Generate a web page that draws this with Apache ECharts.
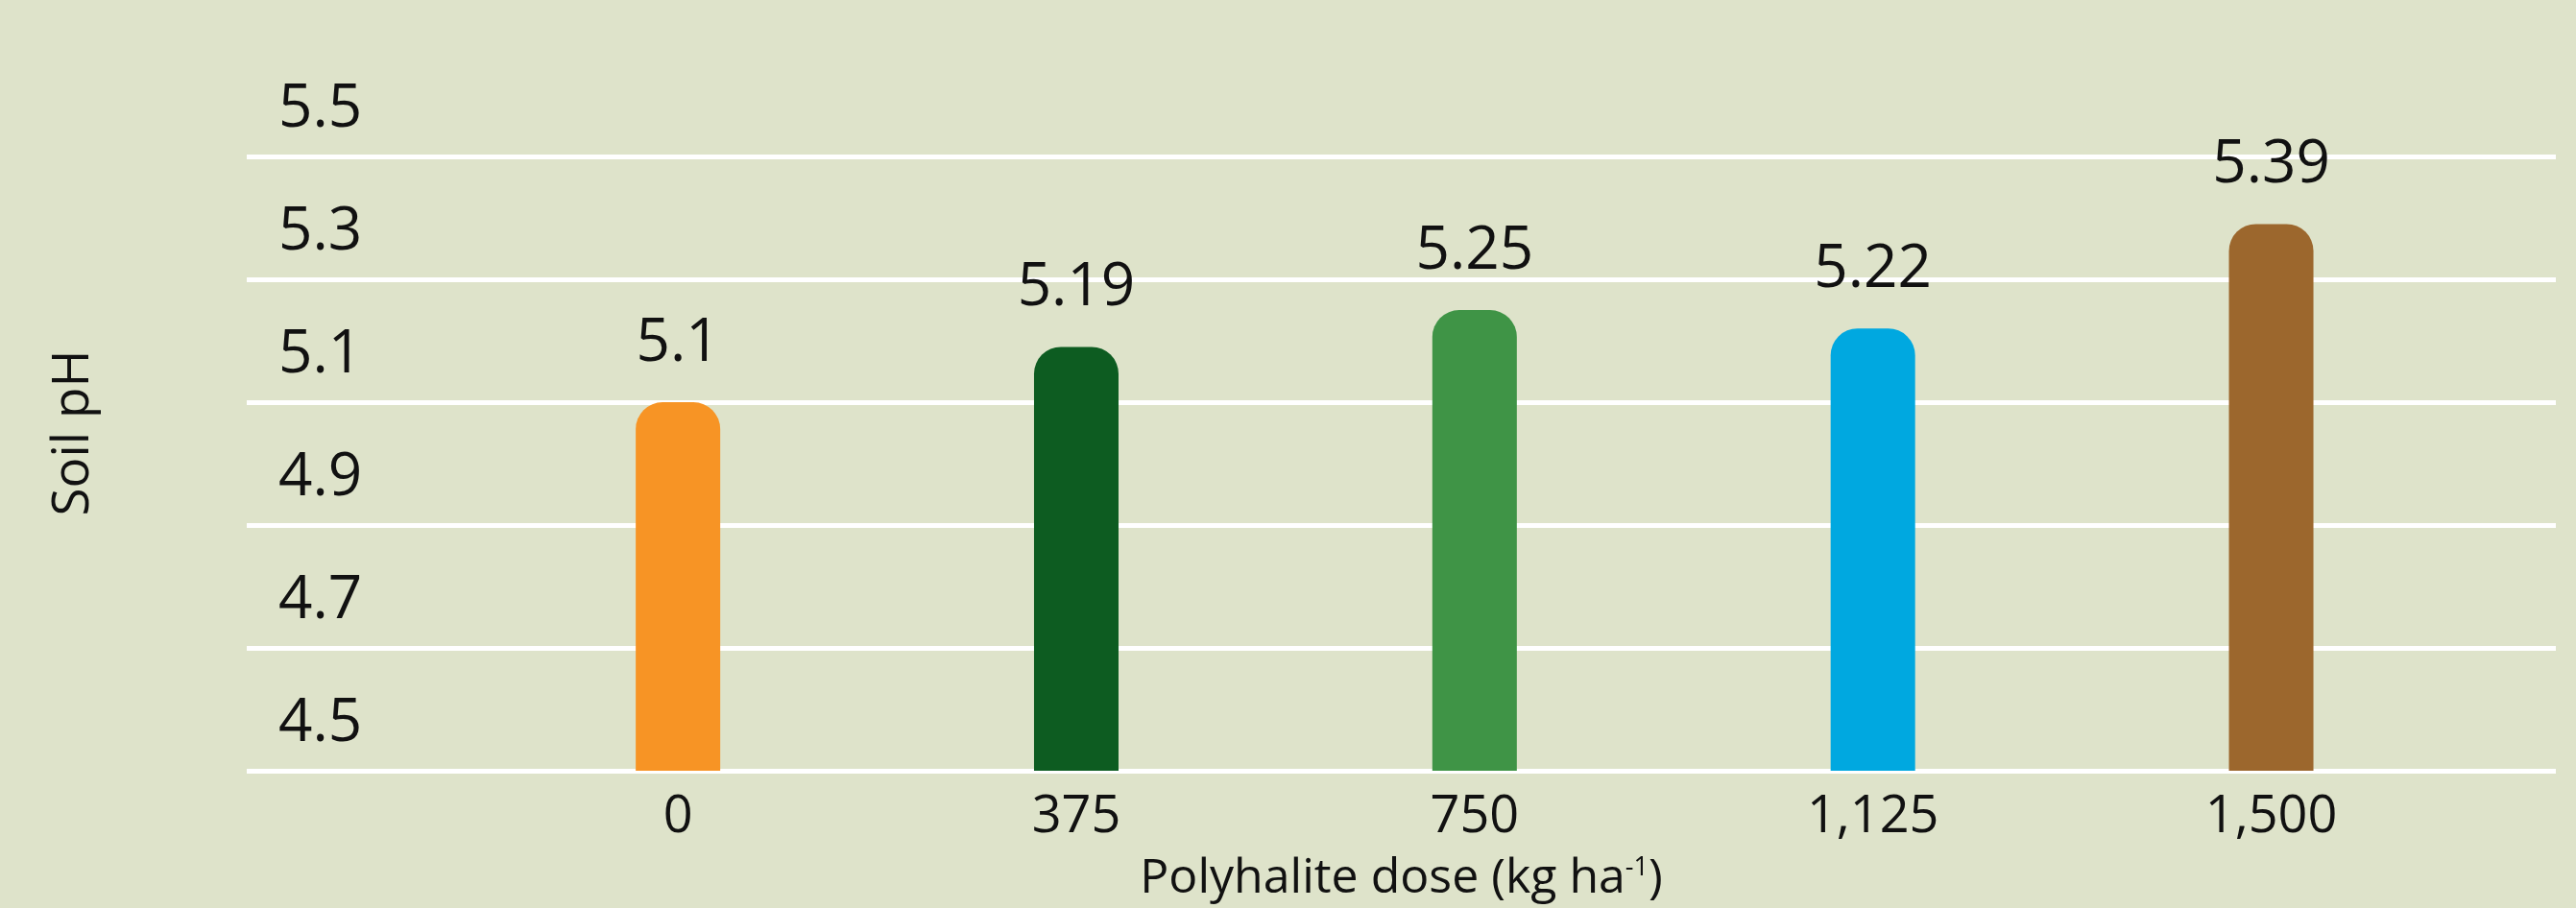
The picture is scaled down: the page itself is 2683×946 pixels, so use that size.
<!DOCTYPE html>
<html>
<head>
<meta charset="utf-8">
<title>Soil pH by polyhalite dose</title>
<script src="https://cdn.jsdelivr.net/npm/echarts@6/dist/echarts.min.js"></script>
<style>
  html, body { margin: 0; padding: 0; background: #dee3ca; }
  #chart { width: 2683px; height: 946px; }
</style>
</head>
<body>
<div id="chart"></div>
<script>
const doses = [0, 375, 750, 1125, 1500]
const doseLabels = ['0', '375', '750', '1,125', '1,500']
const phValues = [5.1, 5.19, 5.25, 5.22, 5.39]
const barColors = ['#f79425', '#0d5c21', '#3f9446', '#00a8e0', '#9c672d']

const FONT = "'Open Sans', sans-serif"

const chart = echarts.init(document.getElementById('chart'))

chart.setOption({
  backgroundColor: '#dee3ca',
  animation: false,
  grid: { left: 257, right: 21, top: 163, bottom: 131 },
  xAxis: {
    type: 'value',
    min: -406,
    max: 1768,
    axisLine: { show: false },
    axisTick: { show: false },
    splitLine: { show: false },
    axisLabel: {
      customValues: doses,
      margin: 22,
      fontFamily: FONT,
      fontSize: 54,
      color: '#111',
      formatter: (v) => doseLabels[doses.indexOf(v)] ?? ''
    },
    name: 'Polyhalite dose (kg ha{sup|-1})',
    nameLocation: 'middle',
    nameGap: 88,
    nameTextStyle: {
      fontFamily: FONT,
      fontSize: 50,
      color: '#111',
      rich: {
        sup: { fontFamily: FONT, fontSize: 27, color: '#111', padding: [0, 0, 23, 0] }
      }
    }
  },
  yAxis: {
    type: 'value',
    min: 4.5,
    max: 5.5,
    interval: 0.2,
    axisLine: { show: false },
    axisTick: { show: false },
    splitLine: { lineStyle: { color: '#ffffff', width: 5 } },
    axisLabel: {
      inside: true,
      margin: 33,
      fontFamily: FONT,
      fontSize: 62,
      color: '#111',
      verticalAlign: 'bottom',
      padding: [0, 0, 18, 0],
      formatter: (v) => v.toFixed(1)
    }
  },
  graphic: [{
    type: 'text',
    x: 77,
    y: 451,
    rotation: Math.PI / 2,
    style: {
      text: 'Soil pH',
      fontFamily: FONT,
      fontSize: 53,
      fill: '#111',
      align: 'center',
      verticalAlign: 'middle'
    }
  }],
  series: [{
    type: 'bar',
    barWidth: 88,
    data: doses.map((d, i) => ({
      value: [d, phValues[i]],
      itemStyle: { color: barColors[i], borderRadius: [28, 28, 0, 0] }
    })),
    label: {
      show: true,
      position: 'top',
      distance: 30,
      fontFamily: FONT,
      fontSize: 62,
      color: '#111',
      formatter: (p) => String(p.value[1])
    }
  }]
})
</script>
</body>
</html>
